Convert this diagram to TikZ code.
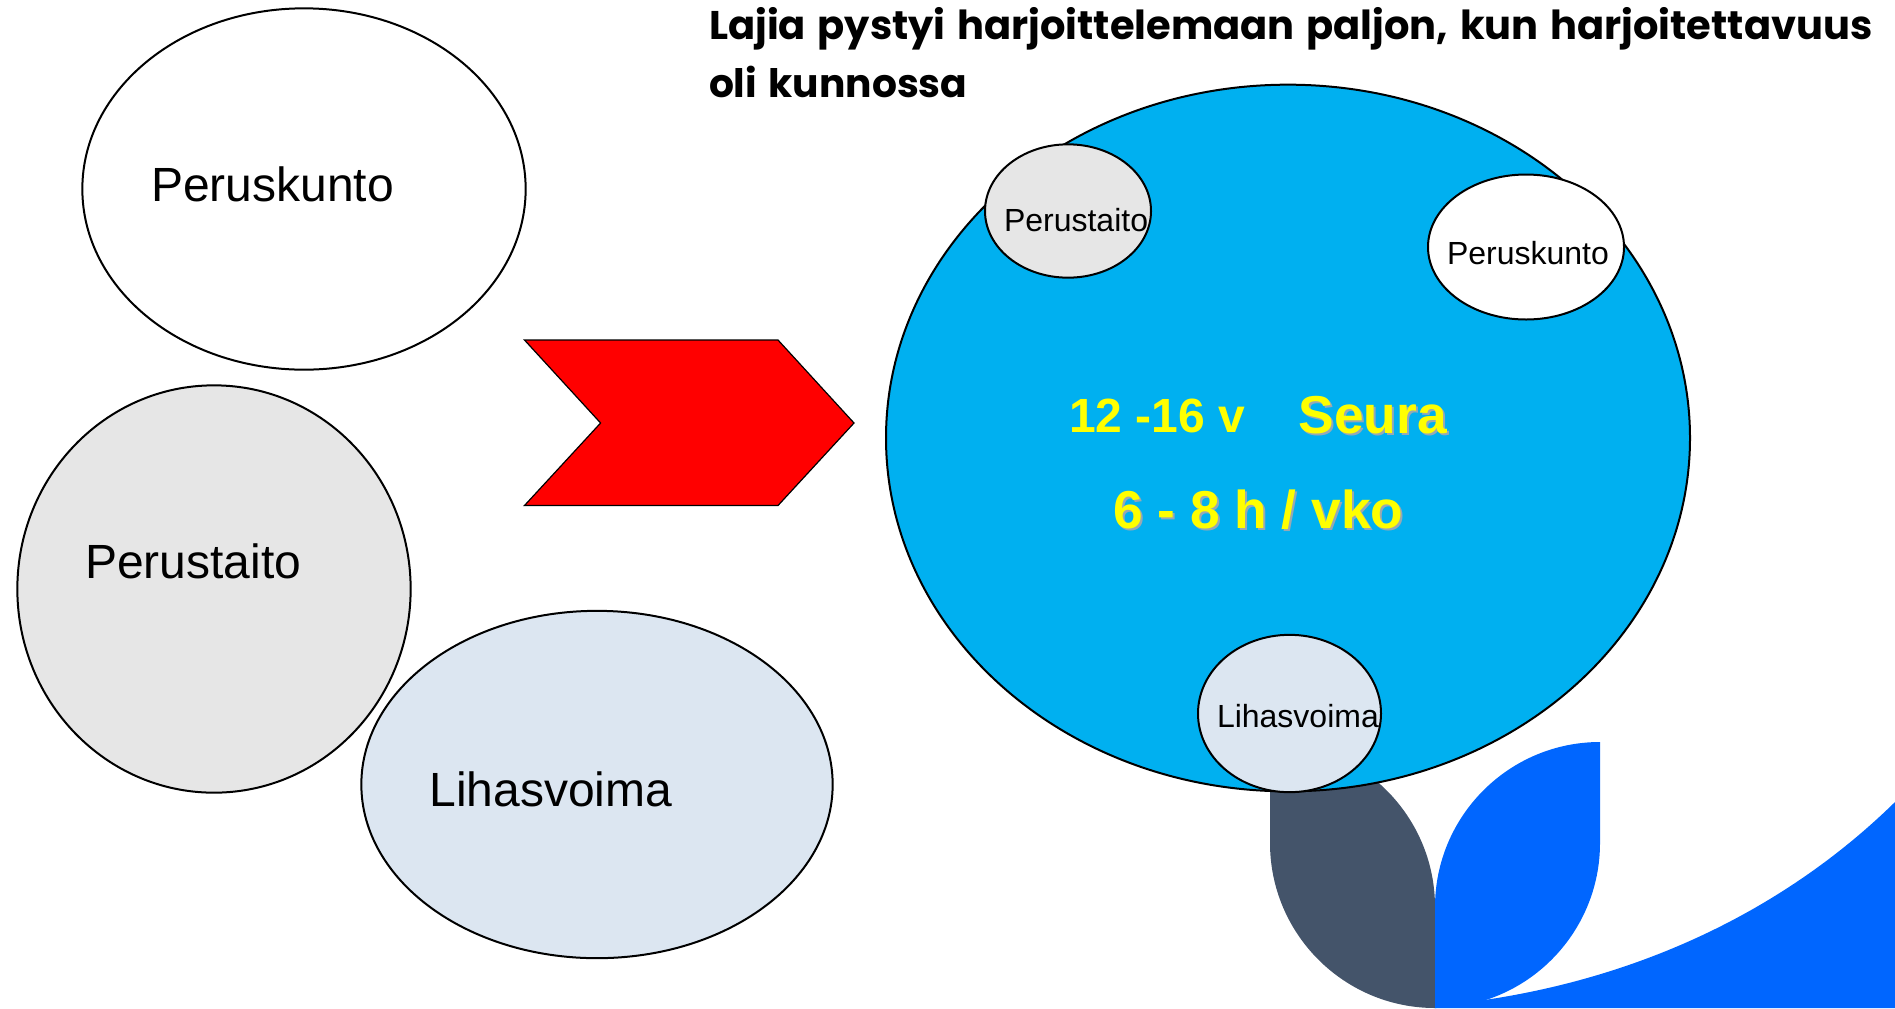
\documentclass[tikz,border=0pt]{standalone}
\usepackage{fontspec}
\usetikzlibrary{shapes.geometric}
\setmainfont{Liberation Sans}
\newfontfamily\titlefont{Poppins}
\newfontfamily\titlefontwide{Poppins}[WordSpace=1.38]
\definecolor{cyanblue}{HTML}{00B0F0}
\definecolor{softgray}{HTML}{E6E6E6}
\definecolor{paleblue}{HTML}{DCE6F1}
\definecolor{slateleaf}{HTML}{44546A}
\definecolor{brandblue}{HTML}{0066FF}
\definecolor{sunyellow}{HTML}{FFFF00}
\definecolor{shadowgray}{HTML}{98A8B4}
\tikzset{
  blob/.style={ellipse,draw=black,line width=1.5pt,inner sep=0pt,outer sep=0pt},
  lbl/.style={anchor=base west,inner sep=0pt,outer sep=0pt,text=black},
  biglbl/.style={lbl,font=\fontsize{36}{36}\selectfont},
  smalllbl/.style={lbl,font=\fontsize{24}{24}\selectfont},
  headline/.style={lbl,font=\titlefont\bfseries\fontsize{29.4}{29.4}\selectfont},
  headlinewide/.style={lbl,font=\titlefontwide\bfseries\fontsize{30}{30}\selectfont},
  yel/.style={anchor=base west,inner sep=0pt,outer sep=0pt,text=sunyellow,font=\bfseries\fontsize{40}{40}\selectfont},
  yelshadow/.style={yel,text=shadowgray},
}
\begin{document}
\begin{tikzpicture}[x=0.75pt,y=-0.75pt]
\useasboundingbox (0,0) rectangle (1895,1008);
% leaves
\fill[slateleaf] (1270,742) .. controls (1361,742) and (1435,816) .. (1435,907) -- (1435,1008)
  .. controls (1344,1008) and (1270,934) .. (1270,843) -- cycle;
\fill[brandblue] (1600,742) .. controls (1509,742) and (1435,816) .. (1435,907) -- (1435,1008)
  .. controls (1526,1008) and (1600,934) .. (1600,843) -- cycle;
\fill[brandblue] (1435,1008) -- (1487,999.6) .. controls (1650,975) and (1790,905) .. (1895,802) -- (1895,1008) -- cycle;
% left ellipses
\node[blob,fill=white,minimum width=332.5pt,minimum height=271pt] (e1) at (304,189) {};
\node[blob,fill=softgray,minimum width=295pt,minimum height=305.5pt] (e2) at (214,589) {};
\node[blob,fill=paleblue,minimum width=353.5pt,minimum height=260.5pt] (e3) at (597,784.5) {};
% arrow
\fill[red,draw=black,line width=0.9pt] (524.5,340) -- (778,340) -- (854,423) -- (778,505.5) -- (524.5,505.5) -- (600.6,423) -- cycle;
% big circle
\node[blob,fill=cyanblue,minimum width=603pt,minimum height=530pt] (main) at (1288,438) {};
\node[blob,fill=softgray,minimum width=124.5pt,minimum height=100pt] (s1) at (1068,211) {};
\node[blob,fill=white,minimum width=147pt,minimum height=108.75pt] (s2) at (1526,247) {};
\node[blob,fill=paleblue,minimum width=137.25pt,minimum height=118pt] (s3) at (1289.5,713.5) {};
% labels
\node[biglbl] (t1) at (151,201) {Peruskunto};
\node[biglbl] (t2) at (85,578) {Perustaito};
\node[biglbl] (t3) at (429.5,806) {Lihasvoima};
\node[smalllbl] (t4) at (1004,231) {Perustaito};
\node[smalllbl] (t5) at (1447,264) {Peruskunto};
\node[smalllbl] (t6) at (1217,727) {Lihasvoima};
% yellow text
\node[yel,font=\bfseries\fontsize{36}{36}\selectfont] (y1) at (1069,432) {12 -16 v};
\node[yelshadow] (y2s) at (1300.5,435) {Seura};
\node[yel] (y2) at (1298.5,433) {Seura};
\node[yelshadow] (y3s) at (1115,530) {6 - 8 h / vko};
\node[yel] (y3) at (1113,528) {6 - 8 h / vko};
% title
\node[headlinewide] (h1) at (709,39) {Lajia pystyi harjoittelemaan paljon, kun harjoitettavuus};
\node[headline] (h2) at (709,97) {oli kunnossa};
\end{tikzpicture}
\end{document}
